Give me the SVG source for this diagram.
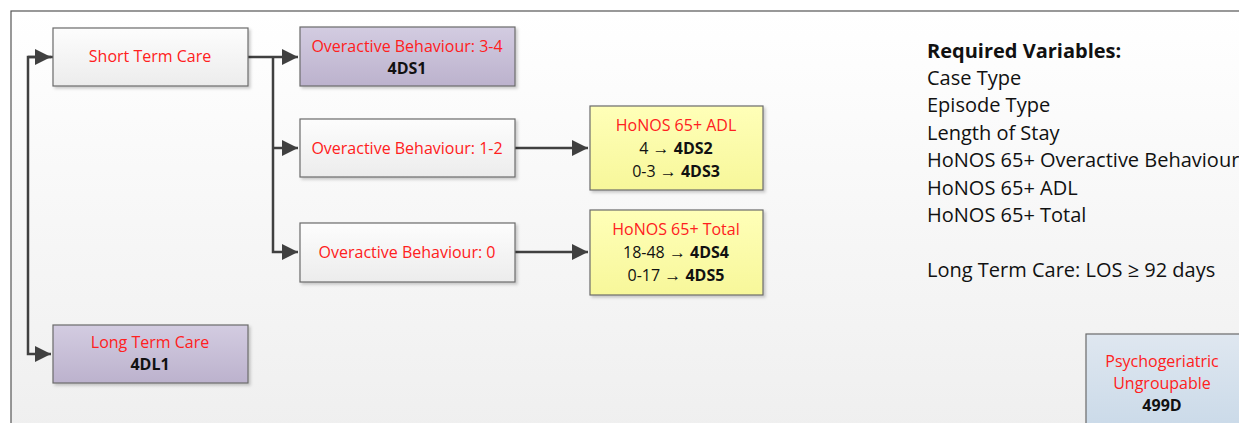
<svg xmlns="http://www.w3.org/2000/svg" width="1239" height="423" viewBox="0 0 1239 423">
<defs>
<linearGradient id="bg" x1="0" y1="0" x2="0" y2="1"><stop offset="0" stop-color="#ffffff"/><stop offset="1" stop-color="#efefef"/></linearGradient>
<linearGradient id="gw" x1="0" y1="0" x2="0" y2="1"><stop offset="0" stop-color="#fdfdfd"/><stop offset="1" stop-color="#ececec"/></linearGradient>
<linearGradient id="gp" x1="0" y1="0" x2="0" y2="1"><stop offset="0" stop-color="#d3cce1"/><stop offset="1" stop-color="#bcb2cd"/></linearGradient>
<linearGradient id="gy" x1="0" y1="0" x2="0" y2="1"><stop offset="0" stop-color="#ffffb8"/><stop offset="1" stop-color="#f7f79a"/></linearGradient>
<linearGradient id="gb" x1="0" y1="0" x2="0" y2="1"><stop offset="0" stop-color="#dfe7f0"/><stop offset="1" stop-color="#c9d9e8"/></linearGradient>
<marker id="ah" viewBox="0 0 10 10" refX="10" refY="5" markerWidth="16" markerHeight="16" markerUnits="userSpaceOnUse" orient="auto"><path d="M0,0 L10,5 L0,10 z" fill="#404040"/></marker>
<filter id="sh" x="-10%" y="-10%" width="125%" height="130%"><feDropShadow dx="2" dy="2" stdDeviation="1.5" flood-color="#000" flood-opacity="0.2"/></filter>
</defs>
<style>
.box{stroke:#6b6b6b;stroke-width:1.2;filter:url(#sh)}
.r{fill:#ff2020;font-family:"Open Sans","Liberation Sans",sans-serif;font-size:16px;text-anchor:middle}
.k{fill:#111;font-family:"Open Sans","Liberation Sans",sans-serif;font-size:16px;text-anchor:middle}
.b{font-weight:bold}
.a{font-family:"Liberation Sans",sans-serif;font-size:17px}
.c{fill:none;stroke:#404040;stroke-width:2.5}
.t{fill:#111;font-family:"Open Sans","Liberation Sans",sans-serif;font-size:20px}
</style>
<rect x="0" y="0" width="1239" height="423" fill="#fff"/>
<rect x="11" y="11" width="1240" height="420" fill="url(#bg)" stroke="#555" stroke-width="1.2"/>
<g id="connectors">
<path class="c" d="M53,57 L28,57 L28,354 L51,354" marker-end="url(#ah)"/>
<path class="c" d="M28,57 L51,57" marker-end="url(#ah)"/>
<path class="c" d="M248,57 L298,57" marker-end="url(#ah)"/>
<path class="c" d="M273,57 L273,252 L298,252" marker-end="url(#ah)"/>
<path class="c" d="M273,148 L298,148" marker-end="url(#ah)"/>
<path class="c" d="M515,148 L588,148" marker-end="url(#ah)"/>
<path class="c" d="M515,252 L588,252" marker-end="url(#ah)"/>
</g>
<g id="short-term">
<rect class="box" x="53" y="28" width="195" height="58" fill="url(#gw)"/>
<text class="r" x="150" y="62">Short Term Care</text>
</g>
<g id="ob34">
<rect class="box" x="300" y="27" width="215" height="59" fill="url(#gp)"/>
<text class="r" x="407" y="52">Overactive Behaviour: 3-4</text>
<text class="k b" x="407" y="74">4DS1</text>
</g>
<g id="ob12">
<rect class="box" x="300" y="119" width="215" height="58" fill="url(#gw)"/>
<text class="r" x="407" y="154">Overactive Behaviour: 1-2</text>
</g>
<g id="ob0">
<rect class="box" x="300" y="223" width="215" height="59" fill="url(#gw)"/>
<text class="r" x="407" y="258">Overactive Behaviour: 0</text>
</g>
<g id="adl">
<rect class="box" x="590" y="106" width="173" height="84" fill="url(#gy)"/>
<text class="r" x="676" y="131">HoNOS 65+ ADL</text>
<text class="k" x="676" y="154">4 <tspan class="a">→</tspan> <tspan class="b">4DS2</tspan></text>
<text class="k" x="676" y="177">0-3 <tspan class="a">→</tspan> <tspan class="b">4DS3</tspan></text>
</g>
<g id="total">
<rect class="box" x="590" y="210" width="173" height="85" fill="url(#gy)"/>
<text class="r" x="676" y="235">HoNOS 65+ Total</text>
<text class="k" x="676" y="258">18-48 <tspan class="a">→</tspan> <tspan class="b">4DS4</tspan></text>
<text class="k" x="676" y="281">0-17 <tspan class="a">→</tspan> <tspan class="b">4DS5</tspan></text>
</g>
<g id="long-term">
<rect class="box" x="53" y="325" width="195" height="58" fill="url(#gp)"/>
<text class="r" x="150" y="348">Long Term Care</text>
<text class="k b" x="150" y="370">4DL1</text>
</g>
<g id="ungroupable">
<rect class="box" x="1086" y="334" width="170" height="100" fill="url(#gb)"/>
<text class="r" x="1162" y="367">Psychogeriatric</text>
<text class="r" x="1162" y="389">Ungroupable</text>
<text class="k b" x="1162" y="411">499D</text>
</g>
<g id="notes">
<text class="t b" x="927" y="58">Required Variables:</text>
<text class="t" x="927" y="85">Case Type</text>
<text class="t" x="927" y="112">Episode Type</text>
<text class="t" x="927" y="140">Length of Stay</text>
<text class="t" x="927" y="167">HoNOS 65+ Overactive Behaviour</text>
<text class="t" x="927" y="195">HoNOS 65+ ADL</text>
<text class="t" x="927" y="222">HoNOS 65+ Total</text>
<text class="t" x="927" y="277">Long Term Care: LOS ≥ 92 days</text>
</g>
</svg>
